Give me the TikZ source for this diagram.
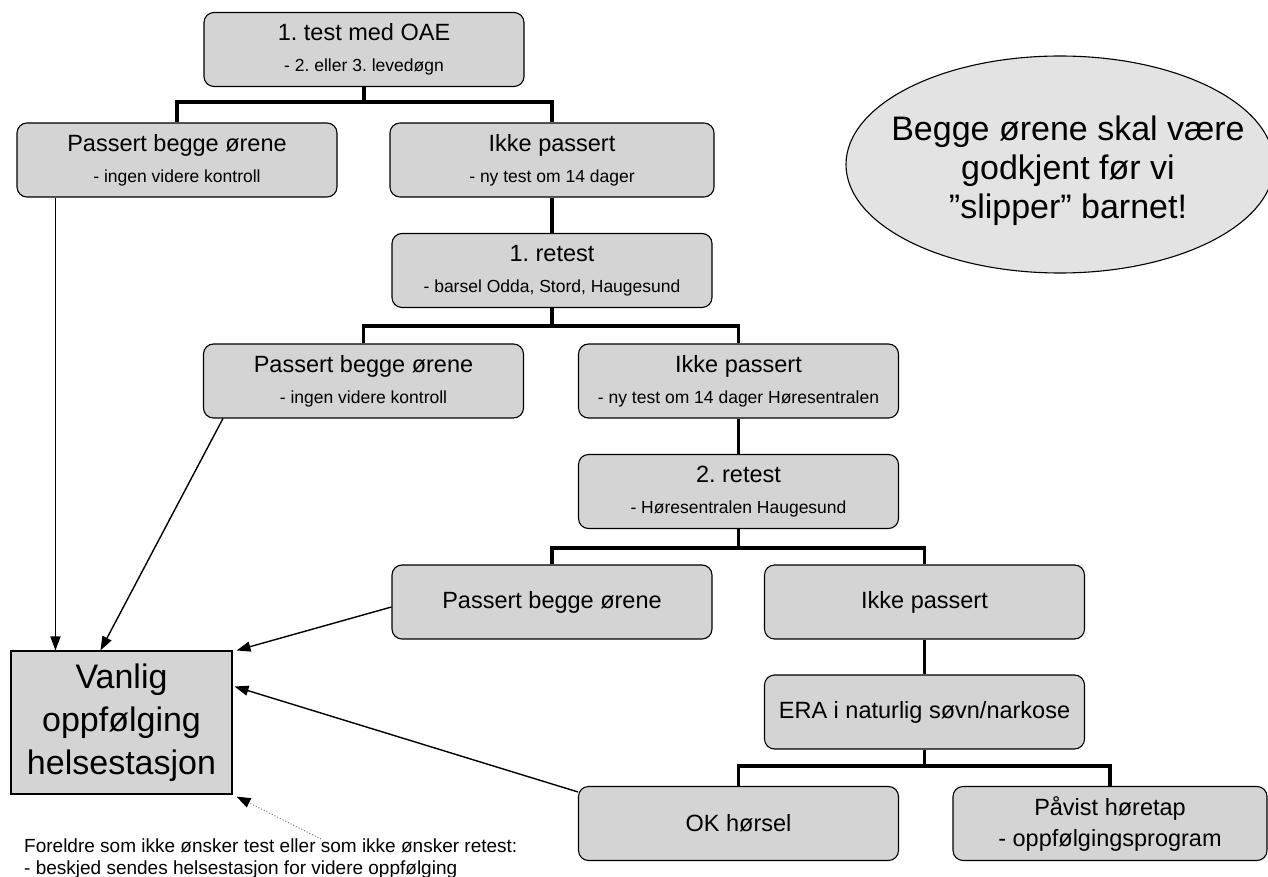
\documentclass[tikz,border=0pt]{standalone}
\usepackage{fontspec}
\setmainfont{Liberation Sans}
\usetikzlibrary{arrows.meta,shapes.geometric}
\frenchspacing

\begin{document}
\begin{tikzpicture}[x=1pt, y=-1pt,
    main/.style = {draw, line width=1.1pt, rounded corners=10pt, fill=black!17,
                   minimum width=320pt, minimum height=74pt, align=center,
                   font=\fontsize{23.5}{31}\selectfont},
    bus/.style = {line width=3.2pt},
    arr/.style = {line width=1.4pt, -{Triangle[length=14pt, width=10pt]}}]
    \useasboundingbox (0,0) rectangle (1268,877);
    % merknad
    \draw[line width=1.1pt, fill=black!11] (1060,164.5) ellipse [x radius=214pt, y radius=108.5pt];
    \node[align=center, font=\fontsize{34}{39}\selectfont] (obs) at (1068,171)
        {Begge ørene skal være\\godkjent før vi\\”slipper” barnet!};
    % boksene
    \node[main] (test) at (364,49.5) {1. test med OAE\\{\fontsize{17.5}{31}\selectfont - 2. eller 3. levedøgn}};
    \node[main] (pass1) at (177,160) {Passert begge ørene\\{\fontsize{17.5}{31}\selectfont - ingen videre kontroll}};
    \node[main, minimum width=324pt] (ikke1) at (552,160) {Ikke passert\\{\fontsize{17.5}{31}\selectfont - ny test om 14 dager}};
    \node[main] (retest1) at (552,270.5) {1. retest\\{\fontsize{17.5}{31}\selectfont - barsel Odda, Stord, Haugesund}};
    \node[main] (pass2) at (363.5,381) {Passert begge ørene\\{\fontsize{17.5}{31}\selectfont - ingen videre kontroll}};
    \node[main] (ikke2) at (738.5,381) {Ikke passert\\{\fontsize{17.5}{31}\selectfont - ny test om 14 dager Høresentralen}};
    \node[main] (retest2) at (738.5,491.5) {2. retest\\{\fontsize{17.5}{31}\selectfont - Høresentralen Haugesund}};
    \node[main] (pass3) at (552,602) {Passert begge ørene};
    \node[main] (ikke3) at (924.5,602) {Ikke passert};
    \node[main] (era) at (924.5,712) {ERA i naturlig søvn/narkose};
    \node[main] (ok) at (738.5,823.5) {OK hørsel};
    \node[main, minimum width=314pt] (tap) at (1110,823.5) {Påvist høretap\\- oppfølgingsprogram};
    \node[draw, line width=1.1pt, fill=black!17, minimum width=221pt, minimum height=143pt,
          align=center, font=\fontsize{34}{43}\selectfont] (vanlig) at (121.5,722.5) {Vanlig\\oppfølging\\helsestasjon};
    \node[anchor=north west, align=left, inner sep=0pt, font=\fontsize{19}{22}\selectfont] (foreldre) at (24,839)
        {Foreldre som ikke ønsker test eller som ikke ønsker retest:\\- beskjed sendes helsestasjon for videre oppfølging};
    % forgreninger
    \coordinate (b1) at (364,102);
    \coordinate (b2) at (552,326);
    \coordinate (b3) at (738.5,548);
    \coordinate (b4) at (924.5,766);
    \draw[bus] (test.south) -- (b1);
    \draw[bus] (pass1.north) |- (b1) -| (ikke1.north);
    \draw[bus] (ikke1.south) -- (retest1.north);
    \draw[bus] (retest1.south) -- (b2);
    \draw[bus] (pass2.north) |- (b2) -| (ikke2.north);
    \draw[bus] (ikke2.south) -- (retest2.north);
    \draw[bus] (retest2.south) -- (b3);
    \draw[bus] (pass3.north) |- (b3) -| (ikke3.north);
    \draw[bus] (ikke3.south) -- (era.north);
    \draw[bus] (era.south) -- (b4);
    \draw[bus] (ok.north) |- (b4) -| (tap.north);
    % piler til helsestasjon
    \draw[arr] ([xshift=39pt]pass1.south west) -- ([xshift=45pt]vanlig.north west);
    \draw[arr] ([xshift=20pt]pass2.south west) -- ([xshift=90pt]vanlig.north west);
    \draw[arr] ([yshift=-5pt]pass3.west) -- ([xshift=4pt]vanlig.north east);
    \draw[arr] ([yshift=-6pt]ok.north west) -- ([xshift=2pt, yshift=36pt]vanlig.east);
    \draw[dotted, gray, line width=1pt, -{Triangle[length=14pt, width=10pt, color=black]}]
        ([xshift=297pt]foreldre.north west) -- ([xshift=4pt, yshift=-2pt]vanlig.south east);
\end{tikzpicture}
\end{document}
